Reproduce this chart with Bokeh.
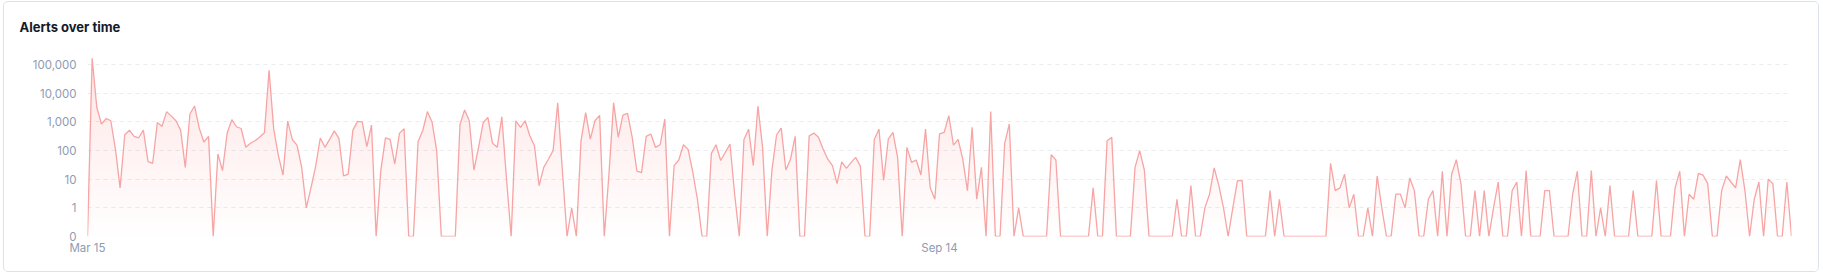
import numpy as np
import pandas as pd
from bokeh.plotting import figure
from bokeh.models import (Range1d, FixedTicker, DatetimeTickFormatter,
                          Title, ColumnDataSource)
from bokeh.embed import file_html
from bokeh.resources import INLINE

# ---- data (daily alert counts, Mar 15 -> Mar 16) ----
start_date = "2023-03-15"
alerts = [
    0, 166000, 3200, 850, 1300, 1100, 112, 5, 350, 520,
    315, 280, 520, 41, 36, 960, 700, 2300, 1600, 1100,
    520, 26, 1900, 3600, 610, 200, 315, 0, 76, 20,
    410, 1200, 680, 590, 130, 180, 220, 300, 420, 64000,
    560, 66, 14, 1070, 240, 156, 26, 1, 5, 28,
    275, 130, 245, 490, 268, 13, 15, 520, 1050, 1000,
    138, 780, 0, 20, 280, 245, 34, 400, 580, 0,
    0, 205, 490, 2300, 1000, 100, 0, 0, 0, 0,
    800, 2600, 1100, 21, 130, 960, 1440, 180, 130, 1500,
    10, 0, 1100, 650, 1100, 330, 148, 6, 26, 50,
    100, 4700, 20, 0, 1, 0, 220, 2100, 250, 1100,
    1700, 0, 15, 4700, 290, 1740, 2000, 290, 19, 17,
    315, 380, 130, 160, 1260, 0, 30, 47, 160, 110,
    18, 2, 0, 0, 80, 160, 45, 87, 170, 3,
    0, 245, 560, 30, 3550, 130, 0, 20, 350, 610,
    21, 50, 315, 0, 0, 320, 410, 290, 113, 50,
    30, 7, 40, 24, 38, 58, 28, 0, 0, 250,
    560, 9, 250, 430, 58, 0, 130, 39, 47, 14,
    560, 5, 2, 380, 430, 1650, 156, 245, 50, 4,
    650, 2, 26, 0, 2300, 0, 0, 180, 850, 0,
    1, 0, 0, 0, 0, 0, 0, 72, 47, 0,
    0, 0, 0, 0, 0, 0, 5, 0, 0, 220,
    290, 0, 0, 0, 0, 26, 100, 21, 0, 0,
    0, 0, 0, 0, 2, 0, 0, 6, 0, 0,
    1, 3, 25, 6, 1, 0, 1, 9, 9, 0,
    0, 0, 0, 0, 4, 0, 2, 0, 0, 0,
    0, 0, 0, 0, 0, 0, 0, 36, 4, 5,
    15, 1, 3, 0, 0, 1, 0, 13, 1, 0,
    0, 3, 3, 1, 11, 4, 0, 0, 2, 4,
    0, 19, 0, 15, 48, 7, 0, 0, 4, 0,
    4, 0, 1, 8, 0, 0, 4, 8, 0, 20,
    0, 0, 0, 4, 4, 0, 0, 0, 0, 3,
    19, 0, 0, 20, 0, 1, 0, 6, 0, 0,
    0, 0, 4, 0, 0, 0, 0, 9, 0, 0,
    0, 5, 19, 0, 3, 2, 16, 14, 7, 0,
    0, 4, 13, 8, 5, 48, 4, 0, 2, 8,
    0, 10, 7, 0, 0, 8, 0,
]
y_tick_values = [0, 1, 10, 100, 1000, 10000, 100000]
y_tick_labels = ["0", "1", "10", "100", "1,000", "10,000", "100,000"]
x_tick_dates = ["2023-03-15", "2023-09-14", "2024-03-16"]
title_text = "Alerts over time"

# ---- transform: log-like axis where 0 sits one decade below 1 ----
def to_axis(v):
    v = np.asarray(v, dtype=float)
    return np.where(v > 0, np.log10(np.maximum(v, 1e-9)) + 1.0, 0.0)

dates = pd.date_range(start_date, periods=len(alerts), freq="D")
u = to_axis(alerts)
src = ColumnDataSource(dict(x=dates, u=u))

W, H = 1816, 271
p = figure(width=W, height=H, output_backend="svg", toolbar_location=None,
           x_axis_type="datetime",
           min_border_left=83, min_border_right=29,
           min_border_top=46, min_border_bottom=37)
p.styles = {"border": "1px solid #dbe2ea", "border-radius": "5px",
            "margin-left": "3px", "margin-top": "1px", "overflow": "hidden"}
p.title = Title(text=title_text, align="left", offset=-68,
                text_font="Inter", text_font_size="13px", text_font_style="bold",
                text_color="#131a2b", standoff=29)
p.x_range = Range1d(dates[0], dates[-1])
p.y_range = Range1d(0, 6.53)
p.border_fill_color = "#ffffff"
p.background_fill_color = "#ffffff"
p.outline_line_color = None

# gradient-ish fill under the line
for L in np.arange(0, 6.5, 0.25):
    p.varea(x=dates, y1=np.minimum(u, L), y2=u, fill_color="#f87171",
            fill_alpha=0.006)

p.line("x", "u", source=src, line_color="#f7a4a4", line_width=1.3)

# axes
yt = list(to_axis(y_tick_values))
p.yaxis.ticker = FixedTicker(ticks=yt)
p.yaxis.major_label_overrides = {float(t): lab for t, lab in zip(yt, y_tick_labels)}
p.yaxis.axis_line_color = None
p.yaxis.major_tick_line_color = None
p.yaxis.minor_tick_line_color = None
p.yaxis.major_tick_out = 0
p.yaxis.major_tick_in = 0
p.yaxis.minor_tick_out = 0
p.yaxis.major_label_standoff = 11
p.yaxis.major_label_text_font = "Inter"
p.yaxis.major_label_text_font_size = "11.5px"
p.yaxis.major_label_text_color = "#8e9bb3"

xt = [pd.Timestamp(d).value / 1e6 for d in x_tick_dates]
p.xaxis.ticker = FixedTicker(ticks=xt)
p.xaxis.formatter = DatetimeTickFormatter(days="%b %d", months="%b %d", hours="%b %d")
p.xaxis.axis_line_color = None
p.xaxis.major_tick_line_color = None
p.xaxis.minor_tick_line_color = None
p.xaxis.major_tick_out = 0
p.xaxis.major_tick_in = 0
p.xaxis.minor_tick_out = 0
p.xaxis.major_label_standoff = 4
p.xaxis.major_label_text_font = "Inter"
p.xaxis.major_label_text_font_size = "11.5px"
p.xaxis.major_label_text_color = "#8e9bb3"

p.xgrid.grid_line_color = None
p.ygrid.ticker = FixedTicker(ticks=yt + [6.53])
p.ygrid.grid_line_color = "#e9edf2"
p.ygrid.grid_line_dash = "4 4"
p.ygrid.grid_line_width = 1

open("out.html", "w").write(file_html(p, INLINE))
